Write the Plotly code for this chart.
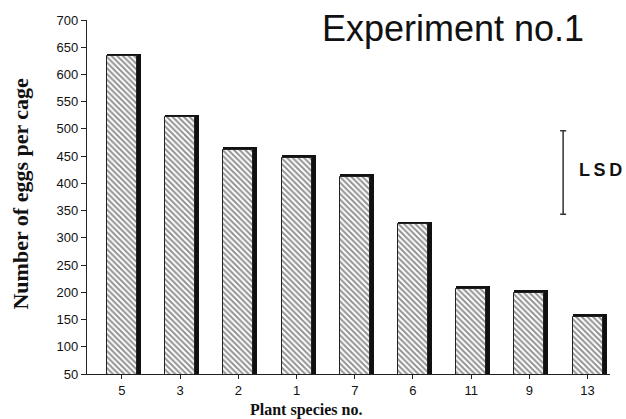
import plotly.graph_objects as go

# Egg counts per cage for each plant species (Experiment no.1)
species = ["5", "3", "2", "1", "7", "6", "11", "9", "13"]
eggs = [638, 526, 466, 452, 417, 330, 212, 204, 160]

# Least significant difference bar
lsd_value = 153
lsd_center = 420

y_ticks = list(range(50, 701, 50))

xpos = list(range(len(species)))
bar_w = 0.515
shadow_w = 0.585
top_band = 5  # depth of dark top edge, in data units

fig = go.Figure()

# dark 3-D side/top of each bar
fig.add_trace(go.Bar(
    x=xpos, y=eggs, width=shadow_w, offset=-bar_w / 2,
    marker=dict(color="#111111", line=dict(width=0)),
    hoverinfo="skip", showlegend=False,
))

# hatched face of each bar
fig.add_trace(go.Bar(
    x=xpos, y=[v - top_band for v in eggs], width=bar_w, offset=-bar_w / 2,
    marker=dict(
        color="white",
        line=dict(color="#222222", width=1),
        pattern=dict(shape="\\", fgcolor="#262626", bgcolor="white",
                     size=4, solidity=0.5),
    ),
    showlegend=False,
))

# LSD interval
fig.add_trace(go.Scatter(
    x=[7.58], y=[lsd_center], mode="markers",
    marker=dict(size=1, color="rgba(0,0,0,0)"),
    error_y=dict(type="data", array=[lsd_value / 2], visible=True,
                 color="#333333", thickness=1.5, width=3),
    showlegend=False, hoverinfo="skip",
))

fig.add_annotation(
    text="L\u2009S\u2009D", x=(577 - 87) / 523, y=0.576, xref="paper", yref="paper",
    xanchor="left", yanchor="middle", showarrow=False,
    font=dict(family="Liberation Sans, Arial", size=18, color="#111111", weight="bold"),
)

fig.add_annotation(
    text="Experiment no.1", x=0.70, y=0.975, xref="paper", yref="paper",
    xanchor="center", yanchor="middle", showarrow=False,
    font=dict(family="Liberation Sans, Arial", size=36, color="#111111"),
)

fig.add_annotation(
    text="Number of eggs per cage", x=-0.128, y=0.51, xref="paper", yref="paper",
    xanchor="center", yanchor="middle", textangle=-90, showarrow=False,
    font=dict(family="Liberation Serif, Times New Roman", size=22, color="#111111", weight="bold"),
)

fig.add_annotation(
    text="Plant species no.", x=(306 - 87) / 523, y=-0.072, xref="paper", yref="paper",
    xanchor="center", yanchor="top", showarrow=False,
    font=dict(family="Liberation Serif, Times New Roman", size=16, color="#111111", weight="bold"),
)

fig.update_layout(
    width=626, height=419,
    margin=dict(l=87, r=16, t=20, b=45),
    paper_bgcolor="white", plot_bgcolor="white",
    barmode="overlay", bargap=0,
)

fig.update_xaxes(
    range=[-0.6, 8.385], tickmode="array", tickvals=xpos, ticktext=species,
    showline=True, linecolor="#222222", linewidth=1.2,
    ticks="outside", ticklen=4, tickcolor="#222222",
    showgrid=False, zeroline=False,
    tickfont=dict(family="Liberation Sans, Arial", size=13, color="#111111"),
)

fig.update_yaxes(
    range=[50, 700], tickmode="array", tickvals=y_ticks,
    showline=True, linecolor="#222222", linewidth=1.2,
    ticks="outside", ticklen=5, tickcolor="#222222",
    showgrid=False, zeroline=False,
    tickfont=dict(family="Liberation Sans, Arial", size=13, color="#111111"),
)

fig.write_html("out.html")
